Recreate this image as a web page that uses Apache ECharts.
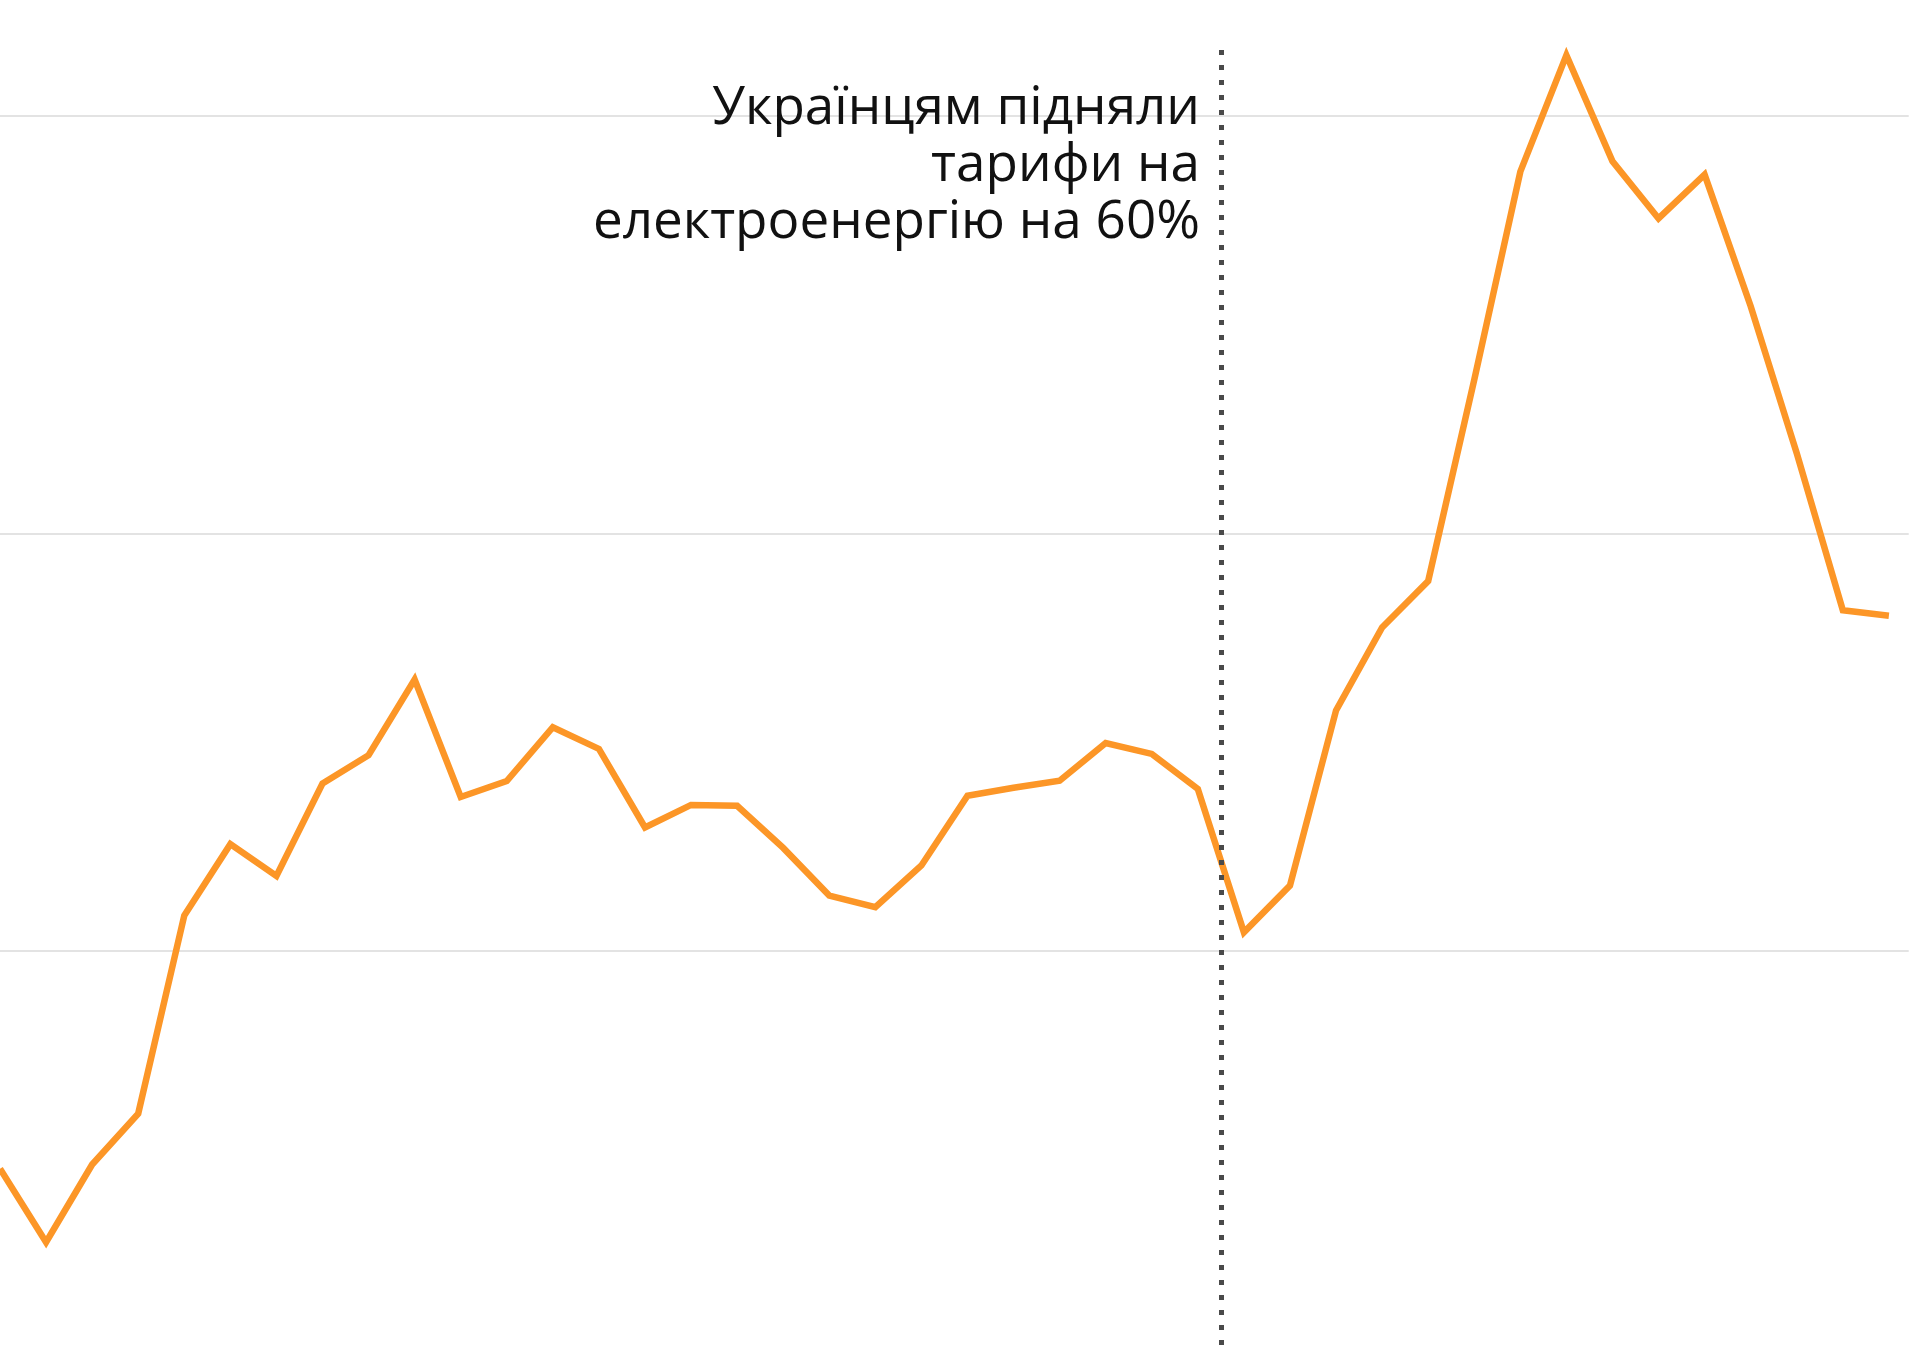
<!DOCTYPE html>
<html>
<head>
<meta charset="utf-8">
<style>
  html, body { margin: 0; padding: 0; background: #ffffff; }
  #chart { width: 1920px; height: 1355px; }
</style>
<script src="https://cdn.jsdelivr.net/npm/echarts@6/dist/echarts.min.js"></script>
</head>
<body>
<div id="chart"></div>
<script>
// ---- data ----
const categories = [
  '1','2','3','4','5','6','7','8','9','10',
  '11','12','13','14','15','16','17','18','19','20',
  '21','22','23','24','25','26','27','28','29','30',
  '31','32','33','34','35','36','37','38','39','40',
  '41','42'
];
const values = [
  4.79, 3.03, 4.89, 6.11, 10.85, 12.56, 11.80, 14.01, 14.69, 16.50,
  13.69, 14.07, 15.36, 14.84, 12.96, 13.50, 13.48, 12.47, 11.33, 11.05,
  12.05, 13.72, 13.91, 14.08, 14.98, 14.72, 13.88, 10.45, 11.57, 15.76,
  17.75, 18.86, 23.68, 28.66, 31.45, 28.91, 27.54, 28.59, 25.44, 21.92,
  18.16, 18.03
];
const gridValues = [10, 20, 30];     // horizontal gridlines
const yMin = 0.33;                   // visible value range of the crop
const yMax = 32.77;
const xMax = 41.43;
const eventPosition = 26.5;          // between categories 27 and 28
const eventTop = 31.57;
const eventText = ['Українцям підняли', 'тарифи на', 'електроенергію на 60%'];

const chart = echarts.init(document.getElementById('chart'), null, { renderer: 'canvas' });

const gridLines = gridValues.map(v => [
  { coord: [0, v] },
  { coord: [xMax, v] }
]);

const option = {
  animation: false,
  backgroundColor: '#ffffff',
  grid: { left: 0, right: 11.3, top: 0, bottom: 0, containLabel: false },
  xAxis: {
    type: 'value',
    min: 0,
    max: xMax,
    show: false,
    splitLine: { show: false }
  },
  yAxis: {
    type: 'value',
    min: yMin,
    max: yMax,
    show: false,
    splitLine: { show: false }
  },
  series: [
    {
      type: 'line',
      name: 'grid',
      data: [],
      silent: true,
      z: 1,
      markLine: {
        silent: true,
        symbol: ['none', 'none'],
        z: 1,
        label: { show: false },
        lineStyle: { type: 'solid', width: 2, color: '#e3e3e3' },
        data: gridLines
      }
    },
    {
      type: 'line',
      name: 'values',
      data: values.map((v, i) => [i, v, categories[i]]),
      showSymbol: false,
      symbol: 'none',
      smooth: false,
      lineStyle: { color: '#FC9627', width: 6.5, join: 'miter', cap: 'butt' },
      z: 2,
      markLine: {
        silent: true,
        symbol: ['none', 'none'],
        z: 10,
        label: { show: false },
        lineStyle: { type: [5, 10], width: 5, color: '#4a4a4a' },
        data: [[{ coord: [eventPosition, eventTop] }, { coord: [eventPosition, yMin] }]]
      }
    }
  ],
  graphic: [{
    type: 'text',
    x: 1200,
    y: 80,
    z: 20,
    style: {
      text: eventText.join('\n'),
      font: '53px "Open Sans", "Noto Sans", sans-serif',
      fill: '#111111',
      align: 'right',
      verticalAlign: 'top',
      lineHeight: 57
    }
  }]
};

chart.setOption(option);
</script>
</body>
</html>
